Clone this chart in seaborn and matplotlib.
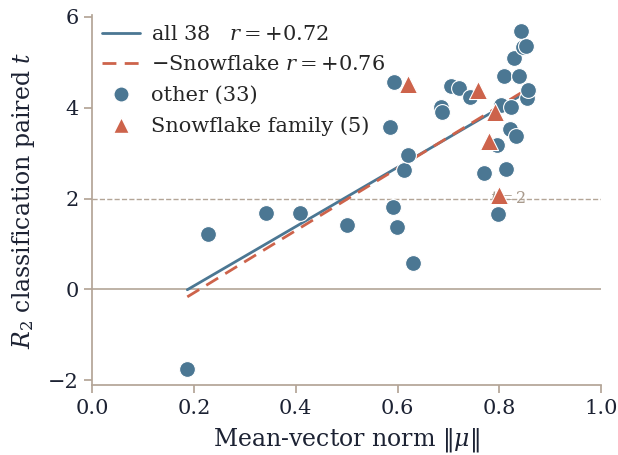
import numpy as np
import pandas as pd
import matplotlib
matplotlib.use("Agg")
import matplotlib.pyplot as plt
import seaborn as sns
from matplotlib.lines import Line2D

# ---- data ----
other_norm = [0.187, 0.228, 0.342, 0.409, 0.501, 0.591, 0.599, 0.631, 0.585, 0.593,
              0.613, 0.620, 0.686, 0.688, 0.705, 0.721, 0.743, 0.769, 0.795, 0.797,
              0.803, 0.808, 0.812, 0.820, 0.822, 0.828, 0.833, 0.838, 0.843, 0.847,
              0.852, 0.855, 0.856]
other_t = [-1.74, 1.23, 1.69, 1.69, 1.41, 1.82, 1.38, 0.59, 3.58, 4.56,
           2.63, 2.96, 4.01, 3.91, 4.48, 4.43, 4.23, 2.56, 3.18, 1.66,
           4.07, 4.69, 2.65, 3.53, 4.02, 5.09, 3.38, 4.70, 5.68, 5.33,
           5.35, 4.21, 4.39]
snow_norm = [0.620, 0.757, 0.792, 0.780, 0.800]
snow_t = [4.52, 4.40, 3.90, 3.27, 2.09]

r_all = "+0.72"
r_excl = "+0.76"
threshold = 2

BLUE = "#4b7793"
RED = "#cd634b"
TAN = "#b3a597"
INK = "#1c2233"

sns.set_theme(style="ticks")
plt.rcParams["font.family"] = ["DejaVu Serif"]
plt.rcParams["mathtext.fontset"] = "dejavuserif"
plt.rcParams["axes.edgecolor"] = TAN
plt.rcParams["xtick.color"] = TAN
plt.rcParams["ytick.color"] = TAN
plt.rcParams["xtick.labelcolor"] = INK
plt.rcParams["ytick.labelcolor"] = INK

df_other = pd.DataFrame({"norm": other_norm, "t": other_t})
df_snow = pd.DataFrame({"norm": snow_norm, "t": snow_t})
df_all = pd.concat([df_other, df_snow], ignore_index=True)

fig, ax = plt.subplots(figsize=(6.18, 4.55), dpi=100)

ax.axhline(0, color=TAN, lw=1.2, zorder=0)
ax.axhline(threshold, color=TAN, lw=1.0, ls="--", zorder=0)
ax.text(0.782, threshold, "$t=2$", color="#a89a8c", fontsize=11.5, va="center", ha="left", zorder=1)

sns.regplot(data=df_all, x="norm", y="t", scatter=False, ci=None, truncate=True,
            ax=ax, line_kws=dict(color=BLUE, lw=2.0, zorder=2))
sns.regplot(data=df_other, x="norm", y="t", scatter=False, ci=None, truncate=True,
            ax=ax, line_kws=dict(color=RED, lw=2.0, ls=(0, (5, 3)), zorder=2))

sns.scatterplot(data=df_other, x="norm", y="t", ax=ax, color=BLUE, s=130,
                edgecolor="white", linewidth=0.8, marker="o", zorder=3, legend=False)
sns.scatterplot(data=df_snow, x="norm", y="t", ax=ax, color=RED, s=170,
                edgecolor="white", linewidth=0.8, marker="^", zorder=4, legend=False)

ax.set_xlim(0, 1.0)
ax.set_xticks([0.0, 0.2, 0.4, 0.6, 0.8, 1.0])
ax.set_yticks([-2, 0, 2, 4, 6])
ax.tick_params(labelsize=15)
ax.set_xlabel(r"Mean-vector norm $\|\mu\|$", fontsize=17, color=INK, labelpad=6)
ax.set_ylabel(r"$R_2$ classification paired $t$", fontsize=17, color=INK, labelpad=8)
sns.despine(ax=ax)

handles = [
    Line2D([], [], color=BLUE, lw=2.0),
    Line2D([], [], color=RED, lw=2.0, ls=(0, (5, 3))),
    Line2D([], [], color=BLUE, marker="o", ls="none", markersize=11, markeredgecolor="white"),
    Line2D([], [], color=RED, marker="^", ls="none", markersize=12, markeredgecolor="white"),
]
labels = [
    f"all {len(df_all)}   $r = {r_all}$",
    f"\u2212Snowflake $r = {r_excl}$",
    f"other ({len(df_other)})",
    f"Snowflake family ({len(df_snow)})",
]
ax.legend(handles, labels, loc="upper left", frameon=False, fontsize=15,
          handlelength=1.8, labelspacing=0.55, borderaxespad=0.1, handletextpad=0.55)

fig.subplots_adjust(left=0.149, right=0.973, bottom=0.153, top=0.968)
fig.savefig("out.png", dpi=100)
